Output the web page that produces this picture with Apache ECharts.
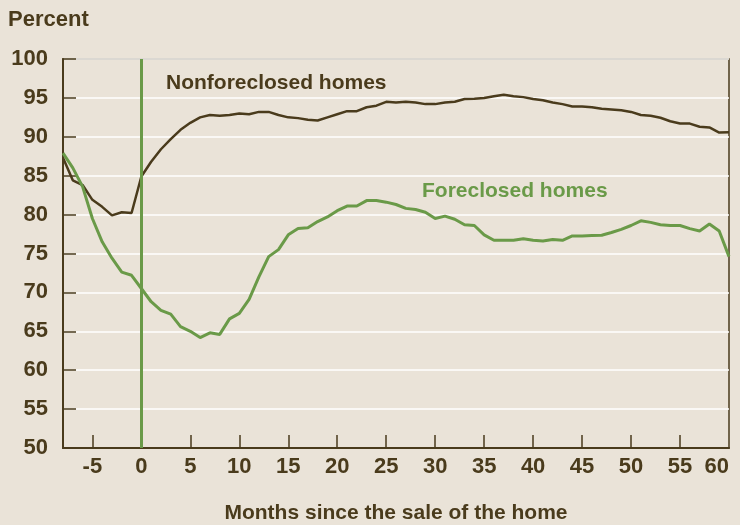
<!DOCTYPE html>
<html>
<head>
<meta charset="utf-8">
<script src="https://cdn.jsdelivr.net/npm/echarts@6/dist/echarts.min.js"></script>
<style>
html,body{margin:0;padding:0;background:#EAE3D8;}
#chart{width:740px;height:525px;}
</style>
</head>
<body>
<div id="chart"></div>
<script>
var months = [];
for (var m = -8; m <= 60; m++) months.push(m);

var nonforeclosed = [
  87.3, 84.4, 83.8, 81.9, 81.0, 79.9, 80.3, 80.2,
  84.9, 86.8, 88.4, 89.7, 90.9, 91.8, 92.5, 92.8, 92.7, 92.8,
  93.0, 92.9, 93.2, 93.2, 92.8, 92.5, 92.4, 92.2, 92.1, 92.5,
  92.9, 93.3, 93.3, 93.8, 94.0, 94.5, 94.4, 94.5, 94.4, 94.2,
  94.2, 94.4, 94.5, 94.85, 94.9, 95.0, 95.2, 95.4, 95.2, 95.1,
  94.85, 94.7, 94.4, 94.2, 93.9, 93.9, 93.8, 93.6, 93.5, 93.4,
  93.2, 92.8, 92.7, 92.45, 92.0, 91.7, 91.7, 91.3, 91.2, 90.55,
  90.6
];

var foreclosed = [
  87.9, 86.0, 83.6, 79.5, 76.5, 74.4, 72.6, 72.2,
  70.5, 68.8, 67.7, 67.2, 65.6, 65.0, 64.2, 64.8, 64.6, 66.6,
  67.3, 69.1, 72.0, 74.6, 75.5, 77.4, 78.2, 78.3, 79.1, 79.7,
  80.5, 81.1, 81.1, 81.8, 81.8, 81.6, 81.3, 80.8, 80.65, 80.3,
  79.5, 79.8, 79.4, 78.7, 78.6, 77.4, 76.7, 76.7, 76.7, 76.9,
  76.7, 76.6, 76.8, 76.7, 77.25, 77.25, 77.3, 77.35, 77.7, 78.1,
  78.6, 79.2, 79.0, 78.7, 78.6, 78.6, 78.2, 77.9, 78.8, 77.9,
  74.6
];

var xTickValues = [-5, 0, 5, 10, 15, 20, 25, 30, 35, 40, 45, 50, 55];
var xLabelValues = [-5, 0, 5, 10, 15, 20, 25, 30, 35, 40, 45, 50, 55, 60];

var BROWN = '#4A3B1C';
var GREEN = '#6A9A48';
var FONT = '"Liberation Sans", Arial, sans-serif';

function pairs(xs, ys) {
  return xs.map(function (x, i) { return [x, ys[i]]; });
}

var chart = echarts.init(document.getElementById('chart'), null, {renderer: 'canvas'});
chart.setOption({
  backgroundColor: '#EAE3D8',
  animation: false,
  title: {
    text: 'Percent',
    left: 8, top: 9, padding: 0,
    textStyle: {fontFamily: FONT, fontWeight: 'bold', fontSize: 22, color: BROWN}
  },
  grid: {
    left: 63, right: 11, top: 59, bottom: 77,
    containLabel: false, outerBoundsMode: 'none',
    show: true, borderColor: BROWN, borderWidth: 1.5, backgroundColor: 'transparent'
  },
  xAxis: {
    type: 'value', min: -8, max: 60,
    axisLine: {show: true, onZero: false, lineStyle: {color: BROWN, width: 2}},
    axisTick: {show: true, inside: true, length: 13, customValues: xTickValues,
               lineStyle: {color: BROWN, width: 1.5}},
    axisLabel: {customValues: xLabelValues, margin: 8, fontFamily: FONT, fontWeight: 'bold',
                fontSize: 22, color: BROWN, alignMaxLabel: 'right'},
    splitLine: {show: false},
    name: 'Months since the sale of the home',
    nameLocation: 'middle', nameGap: 55,
    nameTextStyle: {fontFamily: FONT, fontWeight: 'bold', fontSize: 21, color: BROWN}
  },
  yAxis: {
    type: 'value', min: 50, max: 100, interval: 5,
    axisLine: {show: true, onZero: false, lineStyle: {color: BROWN, width: 2}},
    axisTick: {show: true, inside: true, length: 13, lineStyle: {color: BROWN, width: 1.5}},
    axisLabel: {margin: 15, fontFamily: FONT, fontWeight: 'bold', fontSize: 22, color: BROWN},
    splitLine: {show: true, lineStyle: {color: '#FFFFFF', width: 1.5}}
  },
  graphic: [
    {type: 'text', left: 166, top: 73,
     style: {text: 'Nonforeclosed homes', fill: BROWN, font: 'bold 21px ' + FONT}},
    {type: 'text', left: 422, top: 181,
     style: {text: 'Foreclosed homes', fill: GREEN, font: 'bold 21px ' + FONT}}
  ],
  series: [
    {
      name: 'Nonforeclosed homes', type: 'line', data: pairs(months, nonforeclosed),
      showSymbol: false, symbol: 'none',
      lineStyle: {color: BROWN, width: 2.5}, itemStyle: {color: BROWN}
    },
    {
      name: 'Foreclosed homes', type: 'line', data: pairs(months, foreclosed),
      showSymbol: false, symbol: 'none',
      lineStyle: {color: GREEN, width: 3}, itemStyle: {color: GREEN},
      markLine: {
        silent: true, symbol: ['none', 'none'], label: {show: false},
        lineStyle: {color: GREEN, width: 3, type: 'solid'},
        data: [{xAxis: 0}]
      }
    }
  ]
});
</script>
</body>
</html>
